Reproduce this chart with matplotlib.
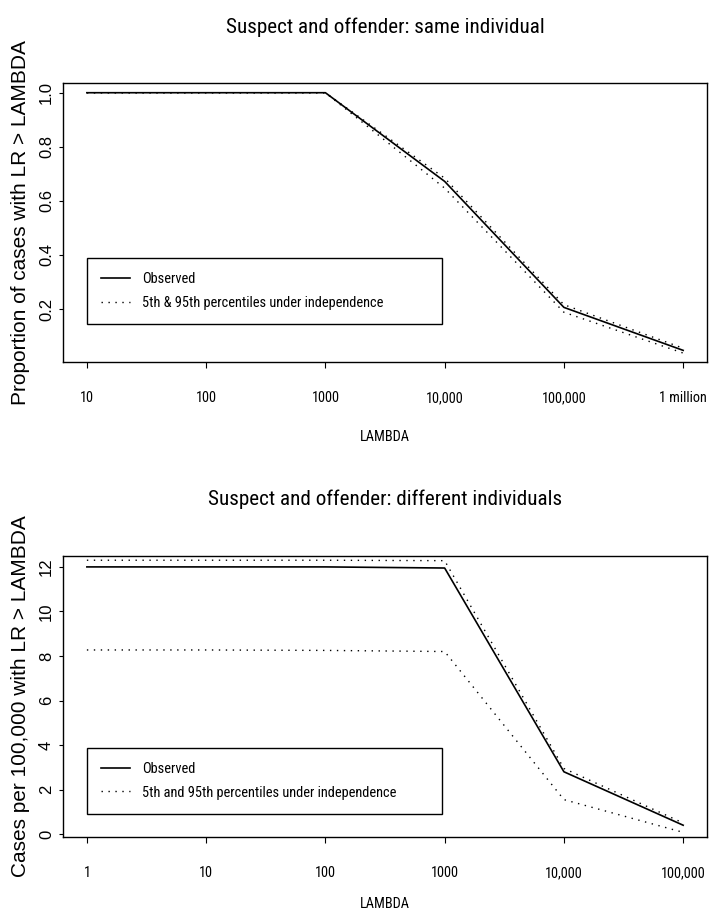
import matplotlib
matplotlib.use("Agg")
import matplotlib.pyplot as plt
from matplotlib import font_manager as fm

# top panel: same individual
lam_same = [10, 100, 1000, 1e4, 1e5, 1e6]
obs_same = [1.0, 1.0, 1.0, 0.672, 0.206, 0.047]
hi_same = [1.0, 1.0, 1.0, 0.684, 0.216, 0.055]
lo_same = [1.0, 1.0, 1.0, 0.647, 0.188, 0.037]
ticks_same = ["10", "100", "1000", "10,000", "100,000", "1 million"]

# bottom panel: different individuals
lam_diff = [1, 10, 100, 1000, 1e4, 1e5]
obs_diff = [12.0, 12.0, 12.0, 11.95, 2.8, 0.4]
hi_diff = [12.3, 12.3, 12.3, 12.28, 2.95, 0.5]
lo_diff = [8.27, 8.27, 8.25, 8.2, 1.55, 0.08]
ticks_diff = ["1", "10", "100", "1000", "10,000", "100,000"]


def pick_narrow():
    # first condensed face that is really installed, else plain Liberation Sans
    for fam, stretch in [("Liberation Sans Narrow", "normal"), ("Roboto Condensed", "normal"),
                         ("Open Sans Condensed", "normal"), ("DejaVu Sans", "condensed"),
                         ("Roboto", "condensed"), ("Open Sans", "condensed")]:
        fp = fm.FontProperties(family=fam, stretch=stretch)
        try:
            path = fm.findfont(fp, fallback_to_default=False)
        except ValueError:
            continue
        if "ondens" in path or "arrow" in path:
            return fm.FontProperties(fname=path), True
    return fm.FontProperties(family="Liberation Sans"), False


NARROW_FP, IS_NARROW = pick_narrow()
REG = ["Liberation Sans", "DejaVu Sans"]
DOT = (0, (1, 4))
# sizes differ when only a normal-width face is available
S_TICK, S_TITLE, S_LEG = (10.3, 15.2, 10.4) if IS_NARROW else (9.5, 13.8, 9.2)

fig = plt.figure(figsize=(7.09, 9.19), dpi=100)


def nfp(size):
    fp = NARROW_FP.copy()
    fp.set_size(size)
    return fp


def panel(rect, x, obs, hi, lo, xticklabels, yticks, ylim, title, ylabel, legend_box,
          pct_label, xlab_y):
    ax = fig.add_axes(rect)
    ax.plot(x, obs, color="black", lw=1.2, label="Observed")
    ax.plot(x, hi, color="black", lw=1.0, ls=DOT, label=pct_label)
    ax.plot(x, lo, color="black", lw=1.0, ls=DOT)
    ax.set_xscale("log")
    span = 5
    ax.set_xlim(x[0] / 10 ** (0.04 * span), x[-1] * 10 ** (0.04 * span))
    ax.set_ylim(*ylim)
    ax.minorticks_off()
    ax.set_xticks(x)
    ax.set_xticklabels(xticklabels, fontproperties=nfp(S_TICK))
    ax.set_yticks(yticks)
    ax.set_yticklabels([f"{v:g}" if isinstance(v, int) else f"{v:.1f}" for v in yticks],
                       family=REG, fontsize=12, rotation=90, va="center")
    ax.tick_params(axis="x", direction="out", length=4, width=0.8, pad=17)
    ax.tick_params(axis="y", direction="out", length=3, width=0.8, pad=3.5)
    for s in ax.spines.values():
        s.set_linewidth(1.0)
    ax.set_xlabel("LAMBDA", fontproperties=nfp(S_TICK))
    ax.xaxis.set_label_coords(0.5, xlab_y)
    ax.xaxis.label.set_va("top")
    ax.set_ylabel(ylabel, family=REG, fontsize=15)
    ax.yaxis.set_label_coords(-0.051, 0.5)
    ax.set_title(title, fontproperties=nfp(S_TITLE), y=1.18, pad=0)
    leg = ax.legend(loc="lower left", bbox_to_anchor=legend_box, mode="expand",
                    prop=nfp(S_LEG), frameon=True, fancybox=False,
                    edgecolor="black", framealpha=1, borderpad=1.0, labelspacing=0.65,
                    handlelength=2.0, handletextpad=0.8, borderaxespad=0)
    leg.get_frame().set_linewidth(1.0)
    return ax


panel([0.0889, 0.6061, 0.9083, 0.3036], lam_same, obs_same, hi_same, lo_same,
      ticks_same, [0.2, 0.4, 0.6, 0.8, 1.0], (0.004, 1.036),
      "Suspect and offender: same individual",
      "Proportion of cases with LR > LAMBDA",
      (0.0373, 0.136, 0.551, 0.251),
      "5th & 95th percentiles under independence", -0.245)

panel([0.0889, 0.0892, 0.9083, 0.3058], lam_diff, obs_diff, hi_diff, lo_diff,
      ticks_diff, [0, 2, 4, 6, 8, 10, 12], (-0.13, 12.49),
      "Suspect and offender: different individuals",
      "Cases per 100,000 with LR > LAMBDA",
      (0.0373, 0.082, 0.551, 0.245),
      "5th and 95th percentiles under independence", -0.215)

fig.savefig("out.png", dpi=100)
